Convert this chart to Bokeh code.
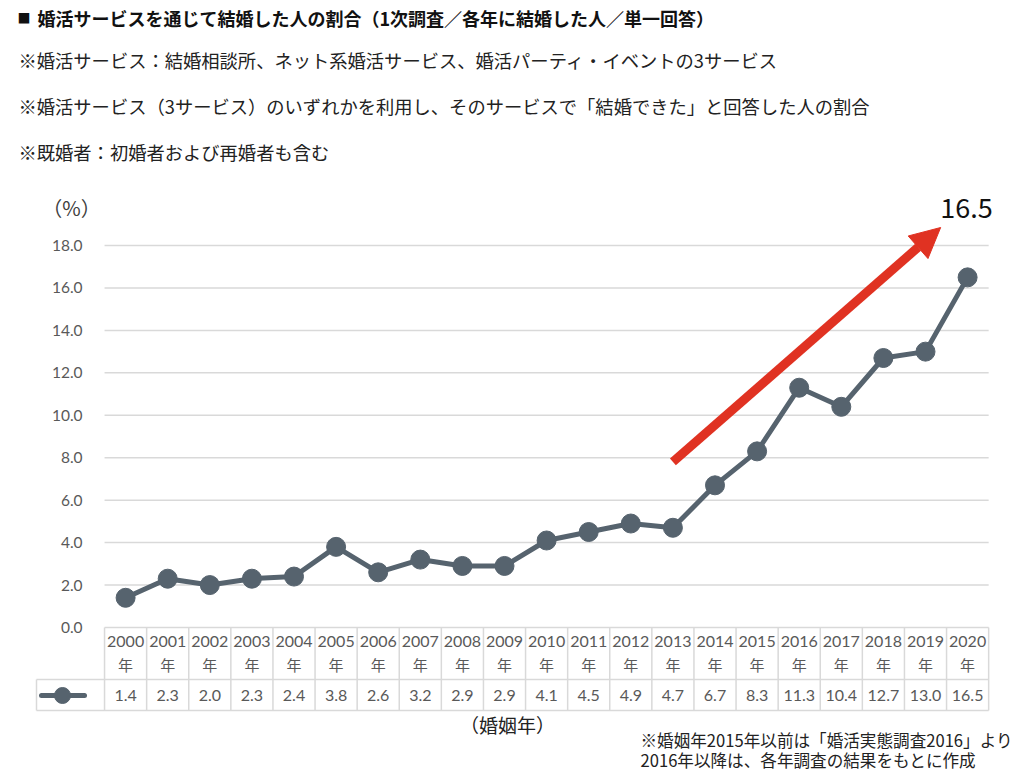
from bokeh.plotting import figure
from bokeh.models import Range1d, Arrow, NormalHead
from bokeh.core.properties import value
from bokeh.embed import file_html
from bokeh.resources import INLINE

# ---------------- data ----------------
years = ["2000", "2001", "2002", "2003", "2004", "2005", "2006", "2007", "2008", "2009",
         "2010", "2011", "2012", "2013", "2014", "2015", "2016", "2017", "2018", "2019", "2020"]
rates = [1.4, 2.3, 2.0, 2.3, 2.4, 3.8, 2.6, 3.2, 2.9, 2.9,
         4.1, 4.5, 4.9, 4.7, 6.7, 8.3, 11.3, 10.4, 12.7, 13.0, 16.5]
y_ticks = [0, 2, 4, 6, 8, 10, 12, 14, 16, 18]
y_tick_labels = ["%.1f" % t for t in y_ticks]
title = "婚活サービスを通じて結婚した人の割合（1次調査／各年に結婚した人／単一回答）"
notes = ["※婚活サービス：結婚相談所、ネット系婚活サービス、婚活パーティ・イベントの3サービス",
         "※婚活サービス（3サービス）のいずれかを利用し、そのサービスで「結婚できた」と回答した人の割合",
         "※既婚者：初婚者および再婚者も含む"]
footnotes = ["※婚姻年2015年以前は「婚活実態調査2016」より", "2016年以降は、各年調査の結果をもとに作成"]
x_title = "（婚姻年）"
y_title = "（%）"
highlight = "16.5"
# trend arrow (start year index / value -> end)
arrow_start = (13.0, 7.8)
arrow_end = (19.36, 18.85)

# ---------------- layout ----------------
W, H = 1016, 774
ORIGIN = 0              # page offset of the canvas
X0, DX = 125.1, 42.1    # page x of first category, px per category
Y0, DY = 627.0, 21.22   # page y of value 0, px per unit


def dx(px):
    return (px - X0) / DX


def dy(py):
    return (Y0 - py) / DY


JP = value("Noto Sans CJK JP")
NUM = value("Lato")
LINE_C = "#56636e"
GRID_C = "#d9d9d9"
TXT_C = "#595959"
RED = "#e03222"

p = figure(width=W, height=H, output_backend="svg", toolbar_location=None,
           x_axis_type=None, y_axis_type=None, min_border=0,
           x_range=Range1d(dx(ORIGIN), dx(ORIGIN + W)), y_range=Range1d(dy(ORIGIN + H), dy(ORIGIN)))
p.outline_line_color = None
p.background_fill_color = "white"
p.border_fill_color = "white"

n = len(years)
idx = list(range(n))
left, right = -0.5, n - 0.5

# gridlines (above zero; zero line is table top)
grid_vals = [t for t in y_ticks if t > 0]
p.segment(x0=[left] * len(grid_vals), x1=[right] * len(grid_vals), y0=grid_vals, y1=grid_vals,
          line_color=GRID_C, line_width=1.5)

# y tick labels
p.text(x=[left] * len(y_ticks), y=y_ticks, text=y_tick_labels, x_offset=-22,
       text_font=NUM, text_font_size=value("15.5px"), text_color=TXT_C,
       text_align="right", text_baseline="middle")

# table
row_top, row_mid, row_bot = 0.0, dy(679), dy(710)
leg_left = dx(36)
p.segment(x0=[left, leg_left, leg_left], x1=[right, right, right],
          y0=[row_top, row_mid, row_bot], y1=[row_top, row_mid, row_bot],
          line_color=GRID_C, line_width=1.5)
vx = [i - 0.5 for i in range(n + 1)]
p.segment(x0=vx, x1=vx, y0=[row_top] * len(vx), y1=[row_bot] * len(vx),
          line_color=GRID_C, line_width=1.5)
p.segment(x0=[leg_left], x1=[leg_left], y0=[row_mid], y1=[row_bot],
          line_color=GRID_C, line_width=1.5)

p.text(x=idx, y=[dy(641)] * n, text=years, text_font=NUM, text_font_size=value("16px"),
       text_color=TXT_C, text_align="center", text_baseline="middle")
p.text(x=idx, y=[dy(664)] * n, text=["年"] * n, text_font=JP, text_font_size=value("15px"),
       text_color=TXT_C, text_align="center", text_baseline="middle")
p.text(x=idx, y=[dy(695)] * n, text=["%.1f" % r for r in rates], text_font=NUM,
       text_font_size=value("16px"), text_color=TXT_C, text_align="center", text_baseline="middle")

# legend symbol in table
p.line(x=[dx(41), dx(84)], y=[dy(695), dy(695)], line_color=LINE_C, line_width=5, line_cap="round")
p.scatter(x=[dx(62)], y=[dy(695)], size=16, fill_color=LINE_C, line_color=LINE_C)

# series
p.line(x=idx, y=rates, line_color=LINE_C, line_width=5)
p.scatter(x=idx, y=rates, size=19, fill_color=LINE_C, line_color=LINE_C)

# arrow
p.add_layout(Arrow(x_start=arrow_start[0], y_start=arrow_start[1], x_end=arrow_end[0], y_end=arrow_end[1],
                   line_color=RED, line_width=9,
                   end=NormalHead(size=30, fill_color=RED, line_color=RED, line_width=1)))

# texts
p.text(x=[dx(966)], y=[dy(207)], text=[highlight], text_font=JP, text_font_size=value("27px"),
       text_color="#111111", text_align="center", text_baseline="middle")
p.text(x=[dx(71)], y=[dy(207)], text=[y_title], text_font=JP, text_font_size=value("20px"),
       text_color="#404040", text_align="center", text_baseline="middle")
p.text(x=[dx(507)], y=[dy(724)], text=[x_title], text_font=JP, text_font_size=value("19px"),
       text_color="#222222", text_align="center", text_baseline="middle")
p.text(x=[dx(640)] * 2, y=[dy(739), dy(759)], text=footnotes, text_font=JP,
       text_font_size=value("16.6px"), text_color="#222222", text_align="left", text_baseline="middle")

p.text(x=[dx(17)], y=[dy(17)], text=["■"], text_font=JP, text_font_size=value("13px"),
       text_color="#111111", text_align="left", text_baseline="middle")
p.text(x=[dx(37)], y=[dy(17)], text=[title], text_font=JP, text_font_size=value("18px"),
       text_font_style="bold", text_color="#111111", text_align="left", text_baseline="middle")
p.text(x=[dx(18)] * 3, y=[dy(59), dy(105), dy(151)], text=notes, text_font=JP,
       text_font_size=value("18.3px"), text_color="#222222", text_align="left", text_baseline="middle")

open("out.html", "w").write(file_html(p, INLINE))
